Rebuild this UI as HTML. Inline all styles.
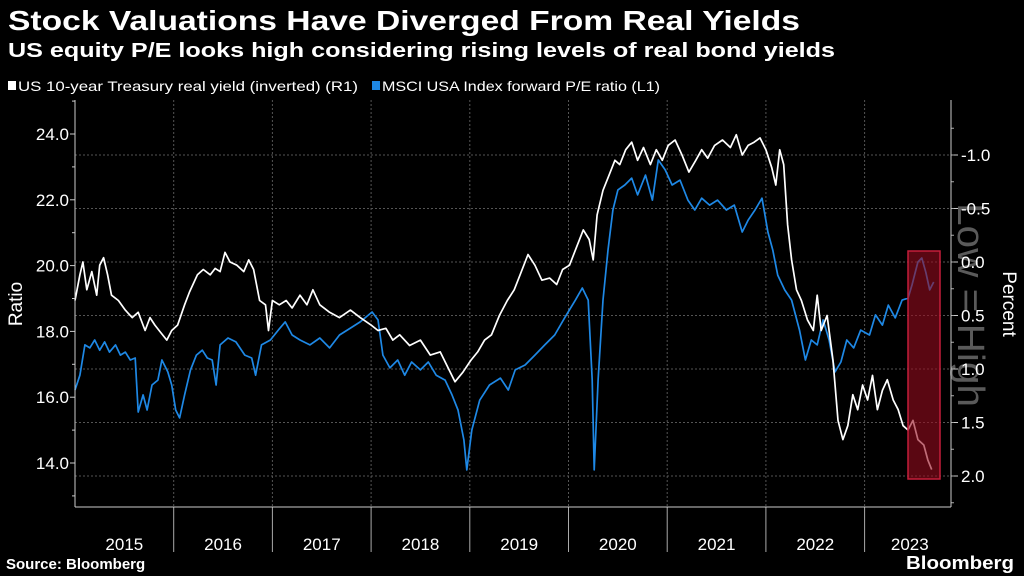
<!DOCTYPE html>
<html><head><meta charset="utf-8">
<style>
html,body{margin:0;padding:0;background:#000;}
svg{display:block;font-family:"Liberation Sans Narrow","Liberation Sans",sans-serif;}
</style></head>
<body>
<svg id="chart" width="1024" height="576" viewBox="0 0 1024 576">
<rect width="1024" height="576" fill="#000"/>
<text x="8" y="30" fill="#fff" font-size="28" font-weight="bold" textLength="792" lengthAdjust="spacingAndGlyphs">Stock Valuations Have Diverged From Real Yields</text>
<text x="8" y="57" fill="#fff" font-size="20" font-weight="bold" textLength="827" lengthAdjust="spacingAndGlyphs">US equity P/E looks high considering rising levels of real bond yields</text>
<g>
<rect x="8" y="81" width="8" height="9" fill="#fff"/>
<text x="18" y="91" fill="#fff" font-size="14" textLength="340" lengthAdjust="spacingAndGlyphs">US 10-year Treasury real yield (inverted) (R1)</text>
<rect x="372" y="81" width="8" height="9" fill="#1e88e5"/>
<text x="382" y="91" fill="#fff" font-size="14" textLength="278" lengthAdjust="spacingAndGlyphs">MSCI USA Index forward P/E ratio (L1)</text>
</g>
<g id="grid"></g>
<text transform="translate(958,305) rotate(90)" fill="#5a5a5a" font-size="38" text-anchor="middle" textLength="204" lengthAdjust="spacingAndGlyphs" font-family="Liberation Sans, sans-serif">Low = High</text>
<g id="series"></g>
<rect x="908" y="251" width="32" height="228" fill="rgba(150,12,30,0.6)" stroke="#c41e3a" stroke-width="1.5"/>
<g id="axes"></g>
<text transform="translate(22,304) rotate(-90)" fill="#fff" font-size="19" text-anchor="middle" font-family="Liberation Sans, sans-serif">Ratio</text>
<text transform="translate(1003,304) rotate(90)" fill="#fff" font-size="19" text-anchor="middle" font-family="Liberation Sans, sans-serif">Percent</text>
<text x="6" y="569" fill="#fff" font-size="15" font-weight="bold" font-family="Liberation Sans, sans-serif">Source: Bloomberg</text>
<text x="1014" y="569" fill="#fff" font-size="18" font-weight="bold" text-anchor="end" textLength="108" lengthAdjust="spacingAndGlyphs" font-family="Liberation Sans, sans-serif">Bloomberg</text>
</svg>
<script>
const years = ["2015","2016","2017","2018","2019","2020","2021","2022","2023"];
const leftTicks = [14, 16, 18, 20, 22, 24];
const rightTicks = [-1.0, -0.5, 0.0, 0.5, 1.0, 1.5, 2.0];
const peDates = [2015.00,2015.05,2015.10,2015.15,2015.20,2015.25,2015.30,2015.35,2015.41,2015.46,2015.51,2015.56,2015.61,2015.64,2015.69,2015.73,2015.78,2015.84,2015.88,2015.94,2015.98,
2016.02,2016.06,2016.11,2016.17,2016.23,2016.29,2016.34,2016.39,2016.43,2016.47,2016.55,2016.63,2016.72,2016.79,2016.83,2016.89,2016.98,
2017.06,2017.13,2017.20,2017.28,2017.38,2017.48,2017.58,2017.68,2017.79,2017.89,
2018.01,2018.07,2018.12,2018.19,2018.27,2018.34,2018.41,2018.50,2018.58,2018.66,2018.75,2018.82,2018.88,2018.94,2018.97,
2019.02,2019.10,2019.20,2019.31,2019.39,2019.46,2019.56,2019.66,2019.76,2019.86,2019.96,
2020.07,2020.14,2020.20,2020.24,2020.26,2020.30,2020.35,2020.40,2020.45,2020.50,2020.57,2020.64,2020.70,2020.78,2020.85,2020.91,2020.98,
2021.05,2021.13,2021.21,2021.28,2021.35,2021.43,2021.51,2021.60,2021.68,2021.76,2021.82,2021.89,2021.96,
2022.02,2022.07,2022.12,2022.19,2022.26,2022.34,2022.40,2022.46,2022.52,2022.58,2022.64,2022.70,2022.76,2022.82,2022.89,2022.96,
2023.05,2023.11,2023.18,2023.24,2023.31,2023.38,2023.44,2023.48,2023.54,2023.58,2023.62,2023.66,2023.70];
const peValues = [16.22,16.67,17.59,17.50,17.74,17.43,17.68,17.37,17.59,17.28,17.37,17.13,17.19,15.55,16.07,15.61,16.37,16.52,17.13,16.77,16.37,
15.61,15.37,16.07,16.83,17.28,17.43,17.19,17.13,16.37,17.59,17.80,17.68,17.28,17.19,16.67,17.59,17.74,
18.04,18.29,17.89,17.74,17.59,17.80,17.50,17.89,18.10,18.29,
18.59,18.35,17.28,16.89,17.13,16.67,17.07,16.83,17.07,16.67,16.52,16.07,15.61,14.70,13.79,
15.00,15.91,16.37,16.58,16.22,16.83,16.98,17.28,17.59,17.89,18.41,
18.95,19.32,18.95,16.52,13.79,16.52,18.95,20.47,21.69,22.30,22.45,22.66,22.15,22.75,21.99,23.21,22.91,
22.45,22.60,21.99,21.69,22.05,21.84,21.99,21.69,21.84,21.02,21.38,21.69,22.05,
21.02,20.47,19.71,19.26,18.95,18.04,17.13,17.74,17.59,18.35,17.74,16.77,17.07,17.74,17.50,18.04,
17.89,18.50,18.19,18.80,18.41,18.95,19.01,19.41,20.11,20.23,19.80,19.26,19.50];
const ryDates = [2015.00,2015.05,2015.08,2015.12,2015.17,2015.22,2015.25,2015.29,2015.33,2015.37,2015.44,2015.51,2015.58,2015.64,2015.71,2015.76,2015.81,2015.86,2015.93,2015.98,
2016.04,2016.11,2016.16,2016.24,2016.30,2016.37,2016.42,2016.47,2016.52,2016.57,2016.64,2016.71,2016.76,2016.81,2016.87,2016.93,2016.96,
2017.00,2017.07,2017.14,2017.20,2017.28,2017.35,2017.41,2017.48,2017.58,2017.68,2017.79,2017.89,
2018.00,2018.07,2018.15,2018.22,2018.29,2018.39,2018.50,2018.60,2018.70,2018.78,2018.85,2018.93,
2019.01,2019.08,2019.15,2019.22,2019.30,2019.38,2019.45,2019.51,2019.59,2019.66,2019.73,2019.81,2019.88,2019.94,
2020.01,2020.09,2020.15,2020.21,2020.25,2020.29,2020.35,2020.41,2020.47,2020.52,2020.58,2020.64,2020.70,2020.76,2020.83,2020.89,2020.95,
2021.01,2021.08,2021.15,2021.22,2021.29,2021.35,2021.41,2021.48,2021.56,2021.64,2021.70,2021.76,2021.82,2021.88,2021.94,
2022.00,2022.06,2022.10,2022.14,2022.18,2022.22,2022.26,2022.31,2022.36,2022.42,2022.48,2022.52,2022.56,2022.62,2022.68,2022.73,2022.78,2022.83,2022.88,2022.93,2022.98,
2023.03,2023.08,2023.13,2023.18,2023.23,2023.29,2023.34,2023.39,2023.44,2023.49,2023.54,2023.60,2023.64,2023.68];
const ryValues = [0.36,0.12,0.00,0.26,0.09,0.31,0.03,-0.04,0.12,0.31,0.36,0.45,0.52,0.47,0.64,0.52,0.59,0.65,0.73,0.64,
0.59,0.40,0.28,0.12,0.07,0.12,0.06,0.09,-0.09,0.00,0.03,0.09,-0.02,0.07,0.36,0.40,0.64,
0.36,0.40,0.36,0.43,0.31,0.40,0.26,0.40,0.47,0.52,0.45,0.52,
0.59,0.64,0.62,0.73,0.68,0.78,0.73,0.87,0.84,0.99,1.12,1.03,
0.92,0.84,0.73,0.68,0.50,0.36,0.26,0.12,-0.07,0.03,0.17,0.15,0.21,0.07,
0.03,-0.16,-0.30,-0.21,-0.02,-0.44,-0.67,-0.81,-0.95,-0.91,-1.05,-1.12,-0.95,-1.07,-0.91,-1.05,-0.95,
-1.09,-1.14,-1.00,-0.84,-0.95,-1.05,-0.97,-1.09,-1.14,-1.07,-1.19,-1.00,-1.09,-1.12,-1.16,
-1.05,-0.88,-0.72,-1.05,-0.91,-0.35,-0.02,0.26,0.36,0.54,0.64,0.31,0.64,0.50,0.92,1.48,1.66,1.53,1.24,1.38,1.15,
1.29,1.06,1.38,1.20,1.10,1.29,1.38,1.53,1.57,1.48,1.66,1.71,1.85,1.94,1.90];

const NS = "http://www.w3.org/2000/svg";
const X0 = 75, X1 = 951, YT = 100, YB = 507;
const xS = d => X0 + (d - 2015) * 98.7;
const yL = v => 134 + (24 - v) * 32.9;
const yR = v => 155 + (v + 1) * 107;
function mk(tag, attrs, parent){ const e=document.createElementNS(NS,tag); for(const k in attrs) e.setAttribute(k,attrs[k]); parent.appendChild(e); return e; }
const grid = document.getElementById('grid');
const axes = document.getElementById('axes');
const series = document.getElementById('series');

rightTicks.forEach(v => {
  const g = mk('line',{x1:X0,x2:X1,y1:yR(v),y2:yR(v),stroke:'#555','stroke-dasharray':'2,2','stroke-width':1},grid);
  
  
  const t = mk('line',{x1:X1,x2:X1+7,y1:yR(v),y2:yR(v),stroke:'#ccc'},axes);
  
  
  const l = mk('text',{x:X1+10,y:yR(v)+6,fill:'#fff','font-size':17},axes);
  l.textContent = v.toFixed(1);
  
  
});
for(let v=-1.25; v<=2.25; v+=0.25){
  const t = mk('line',{x1:X1,x2:X1+3,y1:yR(v),y2:yR(v),stroke:'#aaa'},axes);
  
  
}
for(let v=13; v<=25; v+=1){
  const yy = yL(v); if(yy<YT||yy>YB) continue;
  const major = leftTicks.indexOf(v)>=0;
  const t = mk('line',{x1:X0-(major?5:3),x2:X0,y1:yy,y2:yy,stroke:'#ccc'},axes);
  
  
}
leftTicks.forEach(v => {
  const l = mk('text',{x:X0-6,y:yL(v)+6,fill:'#fff','font-size':17,'text-anchor':'end'},axes);
  l.textContent = v.toFixed(1);
  
  
});
years.forEach((y,i) => {
  const d = 2015 + i;
  if(i>0){
    const g = mk('line',{x1:xS(d),x2:xS(d),y1:YT,y2:YB,stroke:'#555','stroke-dasharray':'2,2'},grid);
    
    
    const t = mk('line',{x1:xS(d),x2:xS(d),y1:YB,y2:552,stroke:'#aaa'},axes);
    
    
  }
  const cx = i===8 ? (xS(d)+X1)/2+2 : xS(d+0.5);
  const l = mk('text',{x:cx,y:550,fill:'#fff','font-size':17,'text-anchor':'middle'},axes);
  l.textContent = y;
  
  
});
const ax1 = mk('line',{x1:X0,x2:X0,y1:YT,y2:YB,stroke:'#ccc'},axes);


const ax2 = mk('line',{x1:X1,x2:X1,y1:YT,y2:YB,stroke:'#ccc'},axes);


const ax3 = mk('line',{x1:X0,x2:X1,y1:YB,y2:YB,stroke:'#ccc'},axes);



const pePts = peDates.map((d,i)=>xS(d).toFixed(1)+','+yL(peValues[i]).toFixed(1)).join(' ');
const pe = mk('polyline',{points:pePts,fill:'none',stroke:'#1e88e5','stroke-width':1.7,'stroke-linejoin':'round'},series);


const ryPts = ryDates.map((d,i)=>xS(d).toFixed(1)+','+yR(ryValues[i]).toFixed(1)).join(' ');
const ry = mk('polyline',{points:ryPts,fill:'none',stroke:'#fff','stroke-width':1.7,'stroke-linejoin':'round'},series);


</script>
</body></html>
